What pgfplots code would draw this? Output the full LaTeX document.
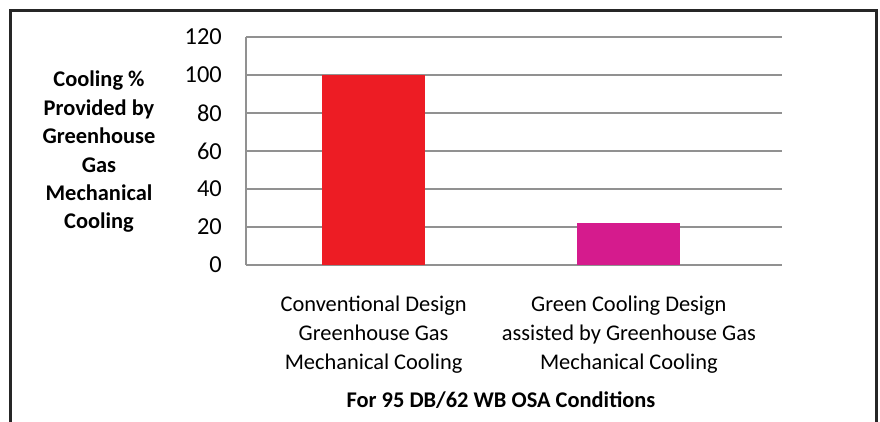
\documentclass[border=0pt]{standalone}
\usepackage{pgfplots}
\pgfplotsset{compat=1.18}
\usepackage{fontspec}
\setmainfont{Carlito}
\definecolor{barred}{RGB}{237,28,36}
\definecolor{barmag}{RGB}{213,27,141}
\definecolor{gridgray}{RGB}{145,145,145}
\begin{document}
\begin{tikzpicture}[x=1bp,y=1bp]
\path[use as bounding box] (0,0) rectangle (880,-421);
\draw[line width=3bp, color=black!85] (10,-440) -- (10,-10) -- (876,-10) -- (876,-440);
\begin{axis}[
  at={(246bp,-265bp)}, anchor=south west,
  scale only axis, width=536bp, height=228bp,
  xmin=-0.5, xmax=1.6, ymin=0, ymax=120,
  ytick={0,20,...,120},
  xtick={0,1},
  xticklabels={{Conventional Design\\Greenhouse Gas\\Mechanical Cooling},{Green Cooling Design\\assisted by Greenhouse Gas\\Mechanical Cooling}},
  axis lines=left,
  axis line style={-, draw=gridgray, line width=1.5bp},
  major tick length=0pt,
  ymajorgrids,
  grid style={draw=gridgray, line width=1.5bp},
  /pgf/number format/assume math mode=true,
  xticklabel style={align=center, inner sep=0pt, anchor=north, yshift=-31bp, font=\fontsize{22.5}{29}\selectfont},
  yticklabel style={inner sep=0pt, anchor=east, xshift=-24bp, font=\fontsize{24.5}{29}\selectfont},
  clip=false,
]
\addplot[ybar, bar shift=0pt, bar width=103bp, fill=barred, draw=none] coordinates {(0,100)};
\addplot[ybar, bar shift=0pt, bar width=103bp, fill=barmag, draw=none] coordinates {(1,22)};
\end{axis}
\node[align=center, font=\bfseries\fontsize{22.5}{28.5}\selectfont] at (99,-152) {Cooling \%\\Provided by\\Greenhouse\\Gas\\Mechanical\\Cooling};
\node[font=\bfseries\fontsize{22.5}{28}\selectfont] at (501,-400) {For 95 DB/62 WB OSA Conditions};
\end{tikzpicture}
\end{document}
